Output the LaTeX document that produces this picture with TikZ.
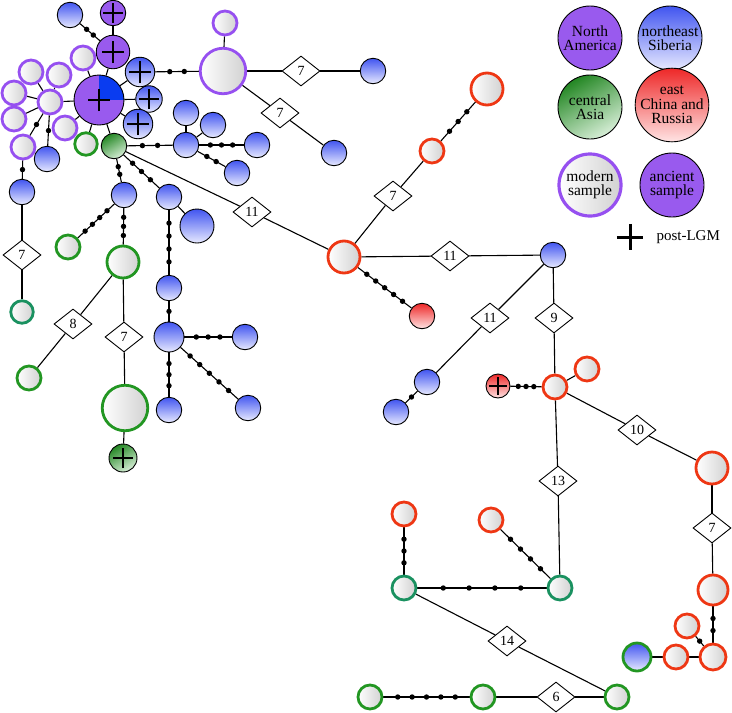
\documentclass[tikz,border=0pt]{standalone}
\usepackage{fontspec}
\setmainfont{Liberation Serif}
\usetikzlibrary{shapes.geometric}
\pgfdeclarelayer{bg}
\pgfsetlayers{bg,main}
\definecolor{cPur}{RGB}{153,90,238}
\definecolor{cPurO}{RGB}{150,80,240}
\definecolor{cRedO}{RGB}{238,55,20}
\definecolor{cGrnO}{RGB}{34,150,34}
\definecolor{cTealO}{RGB}{26,145,96}
\definecolor{cBlueT}{RGB}{65,85,240}
\definecolor{cBlueB}{RGB}{232,234,255}
\definecolor{cBlueQ}{RGB}{10,60,240}
\definecolor{cGrnT}{RGB}{35,135,35}
\definecolor{cGrnB}{RGB}{215,238,215}
\definecolor{cRedT}{RGB}{238,40,40}
\definecolor{cRedB}{RGB}{255,228,228}
\newcommand\pluspic[1]{\draw[line width=1.4pt] ([xshift=-#1]path picture bounding box.center) -- ([xshift=#1]path picture bounding box.center) ([yshift=-#1]path picture bounding box.center) -- ([yshift=#1]path picture bounding box.center);}
\tikzset{
  mod/.style={circle, inner sep=0pt, line width=2.8pt, left color=white, right color=black!18, minimum size=#1},
  modP/.style={mod=#1, draw=cPurO},
  modR/.style={mod=#1, draw=cRedO},
  modG/.style={mod=#1, draw=cGrnO},
  modT/.style={mod=#1, draw=cTealO},
  sq/.style={circle, inner sep=0pt, line width=0.9pt, draw=black, minimum size=#1},
  blu/.style={sq=#1, top color=cBlueT, bottom color=cBlueB},
  bluG/.style={circle, inner sep=0pt, line width=2.8pt, draw=cGrnO, top color=cBlueT, bottom color=cBlueB, minimum size=#1},
  ancP/.style={sq=#1, fill=cPur},
  ancG/.style={sq=#1, top color=cGrnT, bottom color=cGrnB, shading angle=30},
  ancR/.style={sq=#1, top color=cRedT, bottom color=cRedB},
  pluss/.style={path picture={\pluspic{#1}}},
  edge/.style={line width=1.1pt, draw=black},
  mutdot/.style={circle, fill=black, inner sep=0pt, minimum size=5.4pt},
  dia/.style={diamond, draw=black, fill=white, line width=0.9pt, minimum width=38pt, minimum height=30pt, inner sep=0pt, font=\fontsize{14}{14}\selectfont},
  leg/.style={align=center, font=\fontsize{15.5}{14.5}\selectfont},
}
\newcommand\ed[2]{\begin{pgfonlayer}{bg}\draw[edge] (#1) -- (#2);\end{pgfonlayer}}
\newcommand\mut[3]{\begin{pgfonlayer}{bg}\draw[edge] (#1) -- (#2);\end{pgfonlayer}%
  \foreach \k in {1,...,#3}{\pgfmathsetmacro\pp{\k/(#3+1)}\path (#1) -- (#2) node[mutdot, pos=\pp]{};}}
\begin{document}
\begin{tikzpicture}[x=1pt, y=-1pt]
\useasboundingbox (0,0) rectangle (732,713);
% ---------- legend ----------
\node[ancP=64, leg] (LNA) at (590,38) {North\\America};
\node[blu=64, leg] (LNS) at (670,38) {northeast\\Siberia};
\node[ancG=64, leg] (LCA) at (590,107) {central\\Asia};
\node[ancR=64, leg] (LEC) at (672,105) {east\\China and\\Russia};
\node[mod=62, draw=cPurO, line width=3.2pt, leg] (LMS) at (590,185) {modern\\sample};
\node[ancP=64, leg] (LAS) at (672,185) {ancient\\sample};
\node[minimum size=26pt, inner sep=0pt] (LPL) at (630,237) {};
\draw[line width=3pt] (LPL.west) -- (LPL.east) (LPL.north) -- (LPL.south);
\node[anchor=west, font=\fontsize{15}{14}\selectfont] (LPT) at (653,237) {post-LGM};
% ---------- top-left cluster ----------
\node[blu=25.5] (b1) at (70,15) {};
\node[ancP=25.5, pluss=10pt] (pa1) at (113,13) {};
\node[ancP=33.5, pluss=11pt] (pa2) at (113,52) {};
\node[sq=50, fill=cPur, path picture={\fill[cBlueQ] (path picture bounding box.center) rectangle (path picture bounding box.north east);\pluspic{11pt}}] (P) at (99,100) {};
\node[blu=29.5, pluss=11pt] (bp1) at (140,72) {};
\node[blu=26.5, pluss=10pt] (bp2) at (149,99) {};
\node[blu=29.5, pluss=11pt] (bp3) at (138,124) {};
\node[modP=45.5] (M) at (223,71) {};
\node[modP=24] (m0) at (225,23) {};
\node[modP=24] (m1) at (83,58) {};
\node[modP=24] (m2) at (59,75) {};
\node[modP=24] (m3) at (31,72) {};
\node[modP=24] (m4) at (14,93) {};
\node[modP=24] (m5) at (50,102) {};
\node[modP=24] (m6) at (14,119) {};
\node[modP=24] (m7) at (65,128) {};
\node[modP=24] (m8) at (23,147) {};
\node[modG=22.5] (g1) at (86,144) {};
\node[ancG=25.5] (GA) at (114,146) {};
\node[blu=25.5] (b2) at (47,159) {};
\node[blu=25.5] (b3) at (22,192) {};
\node[dia] (d7a) at (22,255) {7};
\node[modT=22.5] (t1) at (22,312) {};
\node[dia] (d7b) at (301,71) {7};
\node[blu=25.5] (b4) at (373,71) {};
\node[dia] (d7c) at (280,113) {7};
\node[blu=25.5] (b5) at (334,153) {};
\ed{pa1}{pa2}
\mut{b1}{pa2}{2}
\ed{pa2}{P}
\ed{P}{bp1}\ed{P}{bp2}\ed{P}{bp3}
\ed{P}{m1}\ed{P}{m5}\ed{P}{m7}\ed{P}{g1}\ed{P}{GA}
\ed{m5}{m2}\ed{m5}{m3}\ed{m5}{m4}\ed{m5}{m6}
\mut{m5}{m8}{1}
\mut{m5}{b2}{1}
\mut{m8}{b3}{1}
\ed{b3}{d7a}\ed{d7a}{t1}
\mut{bp1}{M}{2}
\ed{M}{m0}
\ed{M}{d7b}\ed{d7b}{b4}
\ed{M}{d7c}\ed{d7c}{b5}
% ---------- central-Asia / Siberia branch ----------
\node[blu=25.5] (b6) at (186,145) {};
\node[blu=25.5] (b7) at (186,113) {};
\node[blu=25.5] (b8) at (213,125) {};
\node[blu=25.5] (b9) at (257,145) {};
\node[blu=25.5] (b10) at (237,173) {};
\node[blu=25.5] (b11) at (124,195) {};
\node[blu=25.5] (b12) at (169,197) {};
\node[blu=34] (b13) at (197,226) {};
\node[dia] (d11a) at (252,212) {11};
\node[modG=24] (g2) at (68,247) {};
\node[modG=32] (g3) at (123,262) {};
\node[dia] (d8) at (73,324) {8};
\node[modG=24] (g4) at (29,378) {};
\node[dia] (d7d) at (124,337) {7};
\node[modG=45.5] (g5) at (125,408) {};
\node[ancG=28, pluss=10pt] (ga2) at (123,458) {};
\node[blu=25.5] (b14) at (169,288) {};
\node[blu=30] (b15) at (169,337) {};
\node[blu=25.5] (b16) at (245,337) {};
\node[blu=25.5] (b17) at (169,410) {};
\node[blu=25.5] (b18) at (248,408) {};
\mut{GA}{b6}{2}
\ed{b6}{b7}\ed{b6}{b8}
\mut{b6}{b9}{3}
\mut{b6}{b10}{2}
\mut{GA}{b11}{2}
\mut{GA}{b12}{3}
\ed{b12}{b13}
\mut{b11}{g2}{4}
\mut{b11}{g3}{3}
\ed{g3}{d8}\ed{d8}{g4}
\ed{g3}{d7d}\ed{d7d}{g5}
\ed{g5}{ga2}
\mut{b12}{b14}{4}
\mut{b14}{b15}{1}
\mut{b15}{b16}{3}
\mut{b15}{b17}{3}
\mut{b15}{b18}{5}
% ---------- east China and Russia ----------
\node[modR=32] (R1) at (344,257) {};
\node[dia] (d7e) at (393,196) {7};
\node[modR=24] (r2) at (432,151) {};
\node[modR=32] (r3) at (487,89) {};
\node[dia] (d11b) at (450,256) {11};
\node[blu=25.5] (b19) at (553,255) {};
\node[ancR=25.5] (ra1) at (422,316) {};
\node[dia] (d11c) at (490,318) {11};
\node[blu=25.5] (b20) at (427,382) {};
\node[blu=25.5] (b21) at (396,412) {};
\node[dia] (d9) at (554,318) {9};
\node[modR=24] (r4) at (555,387) {};
\node[ancR=24, pluss=9pt] (ra2) at (498,386) {};
\node[modR=24] (r5) at (587,369) {};
\node[dia] (d10) at (637,430) {10};
\node[modR=32] (r6) at (712,468) {};
\node[dia] (d7f) at (712,528) {7};
\node[modR=30] (r7) at (713,590) {};
\node[modR=26] (r8) at (713,657) {};
\node[modR=24] (r9) at (687,626) {};
\node[modR=24] (r10) at (676,657) {};
\node[bluG=28] (bg) at (637,657) {};
\node[dia] (d13) at (558,481) {13};
\node[modT=24] (t2) at (560,588) {};
\node[modT=24] (t3) at (404,588) {};
\node[modR=24] (r11) at (404,514) {};
\node[modR=24] (r12) at (491,520) {};
\node[dia] (d14) at (507,641) {14};
\node[modG=24] (g6) at (617,697) {};
\node[dia] (d6) at (556,697) {6};
\node[modG=24] (g7) at (483,697) {};
\node[modG=24] (g8) at (370,697) {};
\ed{GA}{d11a}\ed{d11a}{R1}
\ed{R1}{d7e}\ed{d7e}{r2}
\mut{r2}{r3}{3}
\ed{R1}{d11b}\ed{d11b}{b19}
\mut{R1}{ra1}{5}
\ed{b19}{d11c}\ed{d11c}{b20}
\mut{b20}{b21}{1}
\ed{b19}{d9}\ed{d9}{r4}
\mut{ra2}{r4}{3}
\ed{r4}{r5}
\ed{r4}{d10}\ed{d10}{r6}
\ed{r6}{d7f}\ed{d7f}{r7}
\mut{r7}{r8}{2}
\mut{r9}{r8}{1}
\ed{r8}{r10}
\ed{r10}{bg}
\ed{r4}{d13}\ed{d13}{t2}
\mut{t3}{t2}{4}
\mut{r11}{t3}{3}
\mut{r12}{t2}{4}
\ed{t3}{d14}\ed{d14}{g6}
\ed{g6}{d6}\ed{d6}{g7}
\mut{g7}{g8}{5}
\end{tikzpicture}
\end{document}
